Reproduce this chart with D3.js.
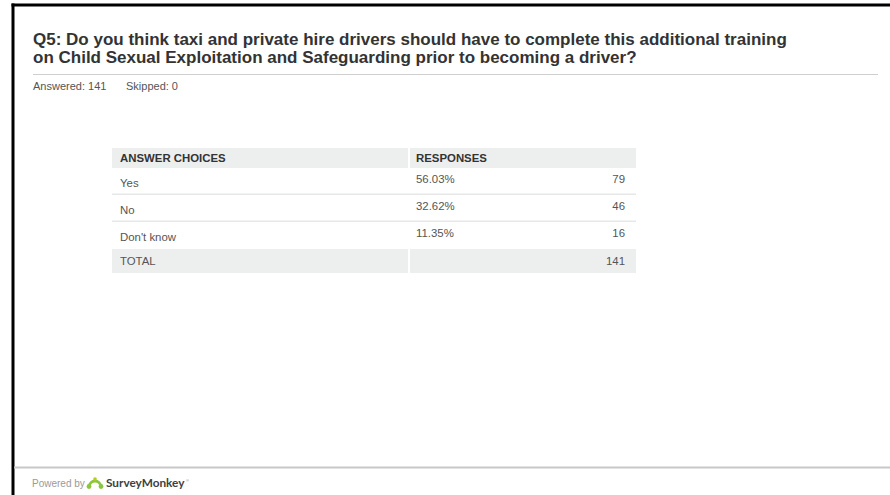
<!DOCTYPE html>
<html><head><meta charset="utf-8">
<script src="https://cdn.jsdelivr.net/npm/d3@7"></script>
<style>
html,body{margin:0;padding:0;background:#fff;}
svg{display:block;font-family:"Liberation Sans",Arial,sans-serif;}
</style></head>
<body>
<svg id="c" width="890" height="495"></svg>
<script>
const titleLines = ["Q5: Do you think taxi and private hire drivers should have to complete this additional training",
                    "on Child Sexual Exploitation and Safeguarding prior to becoming a driver?"];
const answered = 141;
const skipped = 0;
const choices = ["Yes", "No", "Don't know"];
const percents = [56.03, 32.62, 11.35];
const counts = [79, 46, 16];
const total = 141;
const headers = ["ANSWER CHOICES", "RESPONSES"];

const svg = d3.select("#c");
svg.append("rect").attr("x", 0).attr("y", 0).attr("width", 890).attr("height", 495).attr("fill", "#fff");
// frame
svg.append("line").attr("x1", 13).attr("x2", 13).attr("y1", 3.5).attr("y2", 495).attr("stroke", "#000").attr("stroke-width", 3);
svg.append("line").attr("x1", 11.5).attr("x2", 890).attr("y1", 5).attr("y2", 5).attr("stroke", "#000").attr("stroke-width", 3);

// title
svg.selectAll("text.title").data(titleLines).join("text").attr("class", "title")
  .attr("x", 33).attr("y", (d, i) => 44.5 + i * 18)
  .attr("font-size", 17).attr("font-weight", "bold").attr("fill", "#333").text(d => d);
svg.append("line").attr("x1", 33).attr("x2", 878).attr("y1", 74.5).attr("y2", 74.5).attr("stroke", "#cfcfcf");
svg.append("text").attr("x", 33).attr("y", 90).attr("font-size", 11).attr("fill", "#555")
  .text(`Answered: ${answered}`);
svg.append("text").attr("x", 126).attr("y", 90).attr("font-size", 11).attr("fill", "#555")
  .text(`Skipped: ${skipped}`);

// table
const x0 = 112, xSplit = 409, x1 = 636;
const rowH = [20, 27, 27, 27, 24];
const tops = d3.cumsum([148, ...rowH]);           // [148, 168, 195, 222, 249, 273]
const yTop = d3.scaleOrdinal().domain(d3.range(rowH.length)).range(tops.slice(0, rowH.length));
const xCol = d3.scaleOrdinal().domain([0, 1]).range([x0 + 8, xSplit + 7]);
const bg = "#edefef";

const g = svg.append("g");
// header bg
g.append("rect").attr("x", x0).attr("y", yTop(0)).attr("width", xSplit - x0 - 1).attr("height", rowH[0]).attr("fill", bg);
g.append("rect").attr("x", xSplit + 1).attr("y", yTop(0)).attr("width", x1 - xSplit - 1).attr("height", rowH[0]).attr("fill", bg);
g.selectAll("text.h").data(headers).join("text").attr("class", "h")
  .attr("x", (d, i) => xCol(i)).attr("y", yTop(0) + 14)
  .attr("font-size", 11.4).attr("font-weight", "bold").attr("fill", "#333").text(d => d);

// data rows
choices.forEach((c, i) => {
  const top = yTop(i + 1);
  g.append("text").attr("x", xCol(0)).attr("y", top + 19).attr("font-size", 11.4).attr("fill", "#555").text(c);
  g.append("text").attr("x", xCol(1)).attr("y", top + 14.5).attr("font-size", 11.4).attr("fill", "#555").text(d3.format(".2f")(percents[i]) + "%");
  g.append("text").attr("x", x1 - 11).attr("y", top + 14.5).attr("text-anchor", "end").attr("font-size", 11.4).attr("fill", "#555").text(counts[i]);
  if (i < choices.length - 1)
    g.append("line").attr("x1", x0).attr("x2", x1).attr("y1", top + rowH[i + 1] - 0.75).attr("y2", top + rowH[i + 1] - 0.75)
      .attr("stroke", "#e6e8e8").attr("stroke-width", 1.5);
});
// total row
const tt = yTop(4);
g.append("rect").attr("x", x0).attr("y", tt).attr("width", xSplit - x0 - 1).attr("height", rowH[4]).attr("fill", bg);
g.append("rect").attr("x", xSplit + 1).attr("y", tt).attr("width", x1 - xSplit - 1).attr("height", rowH[4]).attr("fill", bg);
g.append("text").attr("x", xCol(0)).attr("y", tt + 16).attr("font-size", 11.4).attr("fill", "#555").text("TOTAL");
g.append("text").attr("x", x1 - 11).attr("y", tt + 16).attr("text-anchor", "end").attr("font-size", 11.4).attr("fill", "#555").text(total);

// footer
svg.append("line").attr("x1", 14).attr("x2", 890).attr("y1", 467.5).attr("y2", 467.5).attr("stroke", "#c8c8c8").attr("stroke-width", 2);
svg.append("text").attr("x", 32).attr("y", 487).attr("font-size", 10).attr("fill", "#9a9a9a").text("Powered by");
// logo icon
const logo = svg.append("g").attr("transform", "translate(95,483)");
logo.append("path").attr("d", "M-5.5,3 A5.5,5 0 0 1 5.5,3").attr("fill", "none").attr("stroke", "#8cc63f").attr("stroke-width", 2.8);
logo.append("circle").attr("cx", -6).attr("cy", 3.5).attr("r", 2.4).attr("fill", "#8cc63f");
logo.append("circle").attr("cx", 6).attr("cy", 3.5).attr("r", 2.4).attr("fill", "#8cc63f");
logo.append("circle").attr("cx", 0).attr("cy", -4).attr("r", 1.8).attr("fill", "#b9cc1e");
svg.append("text").attr("x", 106).attr("y", 487).attr("font-size", 11.8).attr("font-family", "Lato, 'Open Sans', sans-serif")
  .attr("font-weight", "bold").attr("fill", "#404040").text("SurveyMonkey");
svg.append("text").attr("x", 186).attr("y", 482).attr("font-size", 4).attr("fill", "#888").text("®");
</script>
</body></html>
